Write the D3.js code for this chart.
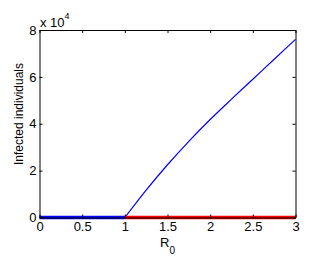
<!DOCTYPE html>
<html><head><meta charset="utf-8">
<script src="https://cdn.jsdelivr.net/npm/d3@7"></script>
<style>body{margin:0;background:#fff}svg{display:block;font-family:"Liberation Sans",Arial,sans-serif}</style>
</head><body><svg id="c" width="314" height="257"></svg>
<script>
const xTicks = [0, 0.5, 1, 1.5, 2, 2.5, 3];
const yTicks = [0, 2, 4, 6, 8];
const stableR0 = [0, 1];            // disease-free, stable (blue thick)
const unstableR0 = [1, 3];          // disease-free, unstable (red thick)
const endemicR0 = [1, 1.25, 1.5, 1.75, 2, 2.25, 2.5, 2.75, 3];
const endemicI = [0, 1.17, 2.25, 3.25, 4.18, 5.05, 5.9, 6.75, 7.6]; // x 10^4

const svg = d3.select("#c");
const L = 39.5, R = 295.5, T = 30, B = 217.5;
const x = d3.scaleLinear().domain([0, 3]).range([L, R]);
const y = d3.scaleLinear().domain([0, 8]).range([B, T]);

const line = d3.line().x(d => x(d[0])).y(d => y(d[1]));

svg.append("path").attr("d", line.curve(d3.curveMonotoneX)(endemicR0.map((r, i) => [r, endemicI[i]])))
  .attr("fill", "none").attr("stroke", "#0000ff").attr("stroke-width", 1.2);
line.curve(d3.curveLinear);
svg.append("path").attr("d", line(unstableR0.map(r => [r, 0])))
  .attr("fill", "none").attr("stroke", "#ff0000").attr("stroke-width", 3.5);
svg.append("path").attr("d", line(stableR0.map(r => [r, 0])))
  .attr("fill", "none").attr("stroke", "#0000ff").attr("stroke-width", 3.5);

// axes
const ax = svg.append("g").attr("transform", `translate(0,${B})`)
  .call(d3.axisBottom(x).tickValues(xTicks).tickFormat(d3.format("")).tickSizeInner(-3).tickSizeOuter(0).tickPadding(4));
const axT = svg.append("g").attr("transform", `translate(0,${T})`)
  .call(d3.axisTop(x).tickValues(xTicks).tickFormat("").tickSizeInner(-3).tickSizeOuter(0));
const ay = svg.append("g").attr("transform", `translate(${L},0)`)
  .call(d3.axisLeft(y).tickValues(yTicks).tickFormat(d3.format("")).tickSizeInner(-3).tickSizeOuter(0).tickPadding(3));
const ayR = svg.append("g").attr("transform", `translate(${R},0)`)
  .call(d3.axisRight(y).tickValues(yTicks).tickFormat("").tickSizeInner(-3).tickSizeOuter(0));
[ax, axT, ay, ayR].forEach(g => {
  g.select(".domain").attr("stroke", "#000").attr("stroke-width", 1);
  g.selectAll(".tick line").attr("stroke", "#000");
  g.selectAll("text").attr("fill", "#000").attr("font-size", 13).attr("font-family", "Liberation Sans, Arial, sans-serif");
});
ax.selectAll("text").attr("dy", "0.75em");

// exponent label
const ex = svg.append("text").attr("x", 40).attr("y", 26.5).attr("font-size", 13).attr("fill", "#000");
ex.append("tspan").text("x 10");
ex.append("tspan").attr("dy", -8).attr("font-size", 9).text("4");

// axis labels
svg.append("text").attr("transform", "translate(23,114) rotate(-90)")
  .attr("text-anchor", "middle").attr("font-size", 12).attr("fill", "#000").text("Infected individuals");
const xl = svg.append("text").attr("x", 160).attr("y", 246.5).attr("font-size", 13).attr("fill", "#000");
xl.append("tspan").text("R");
xl.append("tspan").attr("dy", 7).attr("font-size", 10).text("0");
</script></body></html>
